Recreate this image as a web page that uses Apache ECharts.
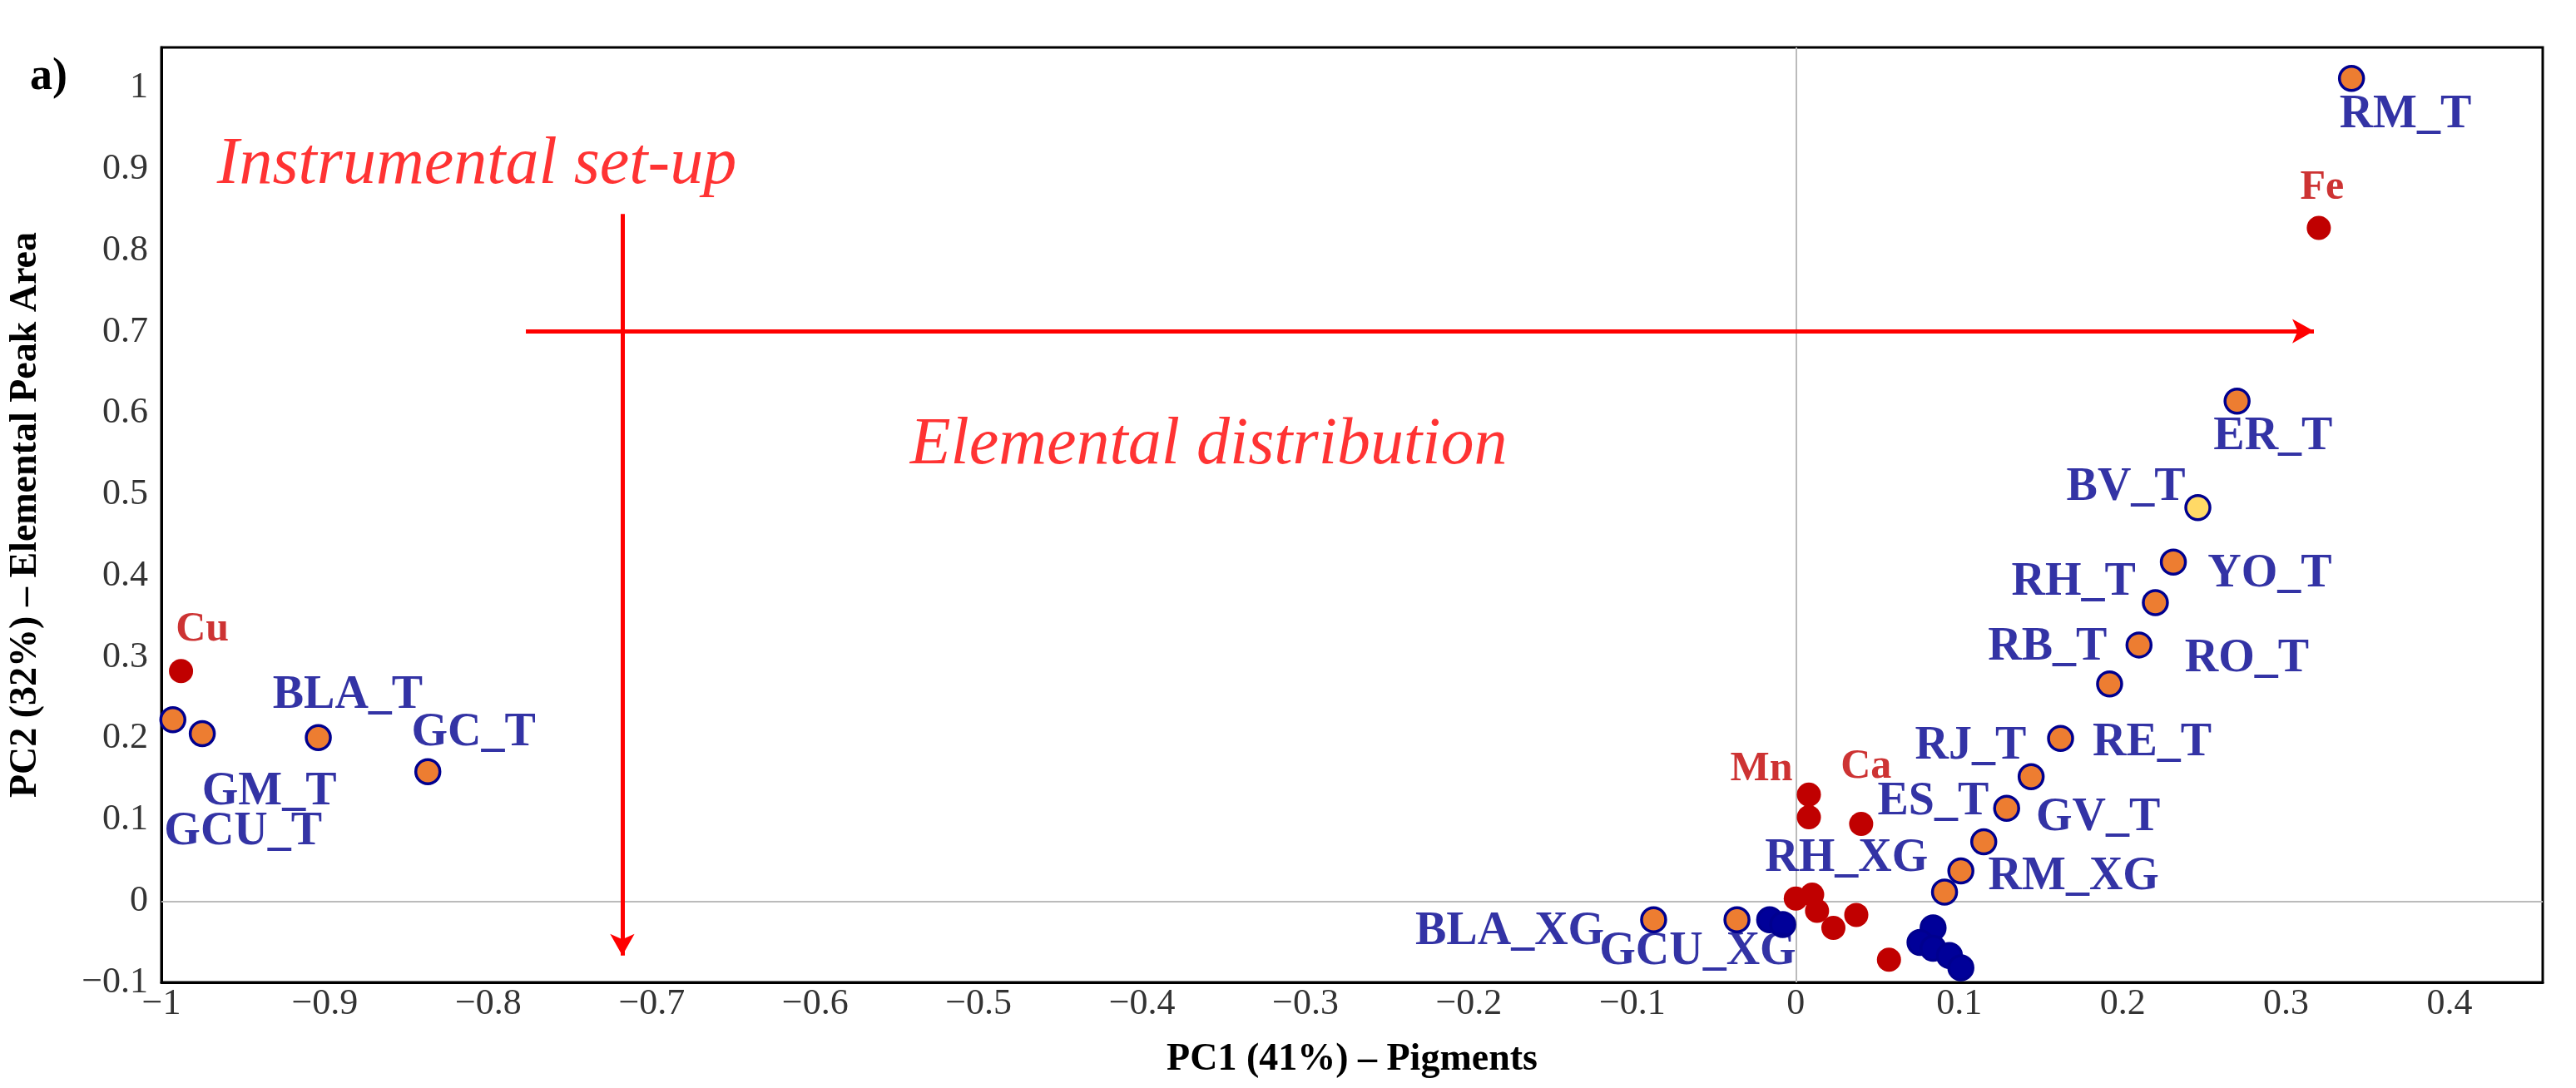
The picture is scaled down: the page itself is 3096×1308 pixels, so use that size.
<!DOCTYPE html>
<html>
<head>
<meta charset="utf-8">
<script src="https://cdn.jsdelivr.net/npm/echarts@6/dist/echarts.min.js"></script>
<style>
  html, body { margin: 0; padding: 0; background: #fff; }
  #container { width: 3096px; height: 1308px; }
</style>
</head>
<body>
<div id="container"></div>
<script>
// samples (orange), BV_T (yellow), XG samples (navy), elements (red): [x, y]
const orangeSamples = [
    [0.340, 1.012], [0.270, 0.615], [0.231, 0.417], [0.220, 0.367], [0.210, 0.315],
    [0.192, 0.267], [0.162, 0.200], [0.144, 0.153], [0.129, 0.114], [0.115, 0.073],
    [0.101, 0.037], [0.091, 0.011], [-0.087, -0.023], [-0.036, -0.023],
    [-0.993, 0.223], [-0.975, 0.206], [-0.904, 0.201], [-0.837, 0.159]
];
const yellowSamples = [[0.246, 0.484]];
const navySamples = [
    [-0.016, -0.023], [-0.008, -0.029], [0.084, -0.033], [0.076, -0.051],
    [0.084, -0.058], [0.094, -0.067], [0.101, -0.082]
];
const elements = [
    [0.320, 0.828], [-0.988, 0.283], [0.008, 0.131], [0.008, 0.103], [0.040, 0.095],
    [0.0, 0.003], [0.010, 0.008], [0.013, -0.012], [0.023, -0.033], [0.037, -0.017], [0.057, -0.072]
];
// label anchors [text, x, y]
const sampleLabels = [
    ['RM_T', 0.373, 0.967], ['ER_T', 0.292, 0.571], ['BV_T', 0.202, 0.508], ['YO_T', 0.290, 0.402],
    ['RH_T', 0.170, 0.392], ['RB_T', 0.154, 0.312], ['RO_T', 0.276, 0.297], ['RJ_T', 0.107, 0.190],
    ['RE_T', 0.218, 0.194], ['ES_T', 0.084, 0.121], ['GV_T', 0.185, 0.102], ['RH_XG', 0.031, 0.052],
    ['RM_XG', 0.170, 0.029], ['BLA_XG', -0.175, -0.038], ['GCU_XG', -0.060, -0.063],
    ['BLA_T', -0.886, 0.252], ['GC_T', -0.809, 0.206], ['GM_T', -0.934, 0.134], ['GCU_T', -0.950, 0.085]
];
const elementLabels = [
    ['Fe', 0.322, 0.877], ['Cu', -0.975, 0.334], ['Mn', -0.021, 0.162], ['Ca', 0.043, 0.165]
];
const notes = [
    ['Instrumental set-up', -0.966, 0.905], ['Elemental distribution', -0.542, 0.56]
];

const serif = '"Liberation Serif", "DejaVu Serif", serif';
const navy = '#00008f';

var myChart = echarts.init(document.getElementById('container'), null, { renderer: 'canvas' });

function dots(data, fill) {
    return {
        type: 'scatter', data: data, symbolSize: 29, z: 5,
        itemStyle: { color: fill, borderColor: navy, borderWidth: 3.5, opacity: 1 }
    };
}
function labels(rows, color, size, extra) {
    return {
        type: 'scatter', symbolSize: 0, z: 6, silent: true,
        data: rows.map(r => ({ value: [r[1], r[2]], name: r[0] })),
        label: Object.assign({
            show: true, position: 'inside', formatter: '{b}', color: color,
            fontFamily: serif, fontWeight: 'bold', fontSize: size
        }, extra || {})
    };
}
function tickText(v) {
    if (Math.abs(v) < 1e-9) return '0';
    const s = String(+Math.abs(v).toFixed(1));
    return v < 0 ? '\u2212' + s : s;
}

var option = {
    backgroundColor: '#fff',
    animation: false,
    grid: { left: 192, right: 40, top: 57, bottom: 127, show: true, borderColor: '#000', borderWidth: 3 },
    graphic: [{
        type: 'text', left: 36, top: 66,
        style: { text: 'a)', font: 'bold 54px ' + serif, fill: '#000' }
    }],
    xAxis: {
        type: 'value', min: -1, max: 0.457, interval: 0.1,
        name: 'PC1 (41%) – Pigments', nameLocation: 'middle', nameGap: 70,
        nameTextStyle: { fontFamily: serif, fontWeight: 'bold', fontSize: 46, color: '#000' },
        axisLine: { onZero: false, lineStyle: { color: '#000', width: 3 } },
        axisTick: { show: false },
        axisLabel: { fontFamily: serif, fontSize: 44, color: '#333', margin: 4, showMaxLabel: false, formatter: tickText },
        splitLine: { show: false }
    },
    yAxis: {
        type: 'value', min: -0.1, max: 1.05, interval: 0.1,
        name: 'PC2 (32%) – Elemental Peak Area', nameLocation: 'middle', nameGap: 140,
        nameTextStyle: { fontFamily: serif, fontWeight: 'bold', fontSize: 46, color: '#000' },
        axisLine: { onZero: false, lineStyle: { color: '#000', width: 3 } },
        axisTick: { show: false },
        axisLabel: {
            fontFamily: serif, fontSize: 44, color: '#333', showMaxLabel: false, margin: 16,
            formatter: tickText
        },
        splitLine: { show: false }
    },
    series: [
        {
            type: 'scatter', data: [], z: 1,
            markLine: {
                silent: true, symbol: 'none', label: { show: false },
                lineStyle: { color: '#bbb', width: 2, type: 'solid' },
                data: [{ xAxis: 0 }, { yAxis: 0 }]
            }
        },
        {
            type: 'scatter', data: [], z: 4,
            markLine: {
                silent: true, symbol: ['none', 'arrow'], symbolSize: [22, 26], label: { show: false },
                lineStyle: { color: '#ff0000', width: 5, type: 'solid' },
                data: [
                    [{ coord: [-0.777, 0.701] }, { coord: [0.317, 0.701] }],
                    [{ coord: [-0.718, 0.845] }, { coord: [-0.718, -0.067] }]
                ]
            }
        },
        dots(orangeSamples, '#ed7d31'),
        dots(yellowSamples, '#ffd966'),
        dots(navySamples, '#000099'),
        {
            type: 'scatter', data: elements, symbolSize: 29, z: 5,
            itemStyle: { color: '#c00000', opacity: 1 }
        },
        labels(sampleLabels, navy, 56),
        labels(elementLabels, '#c00000', 50),
        labels(notes, '#ff0000', 80, { fontWeight: 'normal', fontStyle: 'italic', position: 'right', distance: 0 })
    ]
};

myChart.setOption(option);
</script>
</body>
</html>
